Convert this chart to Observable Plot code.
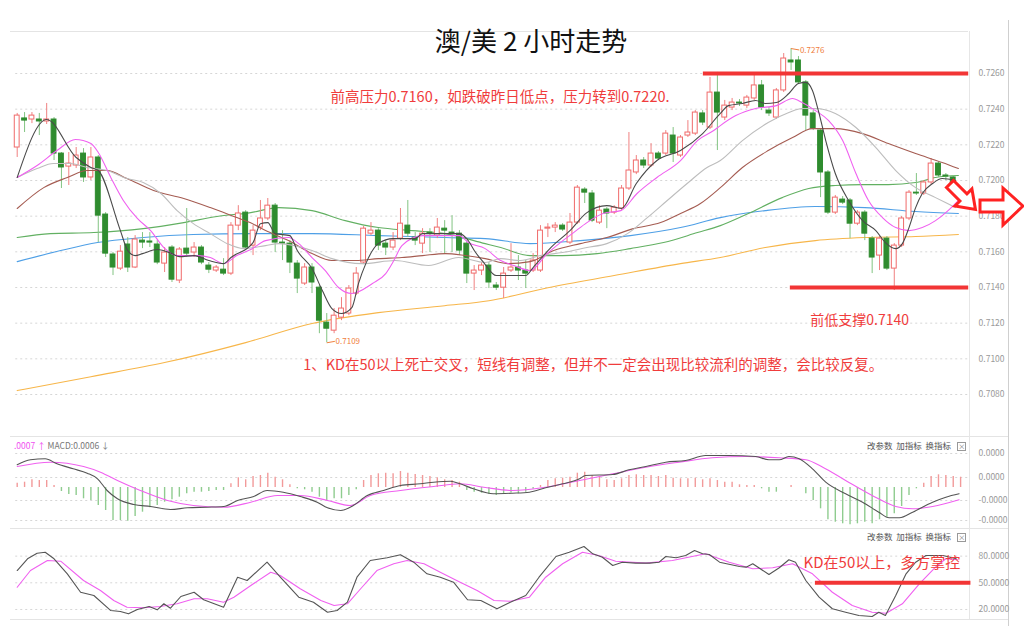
<!DOCTYPE html>
<html><head><meta charset="utf-8">
<script src="https://cdn.jsdelivr.net/npm/d3@7"></script>
<script src="https://cdn.jsdelivr.net/npm/@observablehq/plot@0.6"></script>
<style>
body{margin:0;background:#fff;}
#wrap{position:relative;width:1024px;height:626px;overflow:hidden;background:#fff;font-family:"Noto Sans CJK SC","Noto Sans",sans-serif;}
#wrap svg.plot{position:absolute;left:0;}
.t{position:absolute;white-space:nowrap;}
.hl{position:absolute;height:1px;background:#e4e4e4;}
.vl{position:absolute;width:1px;}
.hdr{position:absolute;font-size:8.5px;color:#555;white-space:nowrap;}
.box{display:inline-block;width:7px;height:7px;border:1px solid #999;font-size:7px;line-height:7px;text-align:center;color:#777;vertical-align:middle;margin-left:6px;}
</style></head><body>
<div id="wrap">
  <div class="hl" style="top:31px;left:10px;width:958px"></div>
  <div class="hl" style="top:436px;left:10px;width:998px"></div>
  <div class="hl" style="top:528px;left:10px;width:998px"></div>
  <div class="hl" style="top:619px;left:10px;width:998px"></div>
  <div class="vl" style="left:969px;top:31px;height:588px;background:#e6e6e6"></div>
  <div class="vl" style="left:1008px;top:20px;height:606px;background:#cfcfcf"></div>
  <div class="t" style="left:0;width:1062px;text-align:center;top:24px;font-size:26px;line-height:32px;color:#111">澳/美 2 小时走势</div>
  <div class="hdr" style="left:14px;top:439px"><span style="color:#f050f0">.0007 ↑</span> <span style="color:#777">MACD:0.0006 ↓</span></div>
  <div class="hdr" style="left:867px;top:439px">改参数&nbsp;&nbsp;加指标&nbsp;&nbsp;换指标<span class="box">×</span></div>
  <div class="hdr" style="left:867px;top:530px">改参数&nbsp;&nbsp;加指标&nbsp;&nbsp;换指标<span class="box">×</span></div>
</div>
<script>
// ---------- candles (2h AUD/USD) ----------
const open = [
.72185,.72348,.72342,.72342,.72331,.72342,.72151,.72078,.72084,.72151,
.72017,.72129,.71809,.71585,.71506,.71641,.71512,.71663,.71658,.71641,
.71534,.71624,.71439,.71618,.71596,.71624,.71523,.71495,.71500,.71478,
.71747,.71820,.71635,.71736,.71787,.71859,.71652,.71646,.71534,.71422,
.71512,.71399,.71203,.71158,.71231,.71254,.71366,.71540,.71702,.71719,
.71646,.71624,.71674,.71747,.71680,.71646,.71708,.71691,.71730,.71708,
.71702,.71646,.71478,.71495,.71523,.71411,.71399,.71495,.71512,.71495,
.71495,.71495,.71730,.71736,.71747,.71652,.71764,.71949,.71927,.71764,
.71837,.71820,.71843,.71955,.72045,.72112,.72084,.72151,.72151,.72252,
.72140,.72252,.72263,.72376,.72297,.72493,.72353,.72409,.72437,.72420,
.72460,.72533,.72392,.72353,.72505,.72673,.72673,.72550,.72376,.72280,
.72045,.71820,.71893,.71888,.71758,.71820,.71674,.71579,.71674,.71506,
.71635,.71787,.71932,.71927,.71989,.72095,.72028,.72017,.71910];
const high = [
.72376,.72381,.72381,.72376,.72432,.72353,.72157,.72157,.72185,.72179,
.72185,.72140,.71820,.71596,.71635,.71680,.71691,.71708,.71708,.71663,
.71624,.71635,.71624,.71843,.71652,.71635,.71540,.71523,.71562,.71764,
.71859,.71831,.71747,.71888,.71899,.71871,.71719,.71663,.71551,.71534,
.71534,.71411,.71254,.71282,.71343,.71411,.71512,.71742,.71764,.71730,
.71663,.71708,.71843,.71888,.71708,.71730,.71730,.71787,.71775,.71803,
.71719,.71663,.71523,.71540,.71540,.71428,.71512,.71646,.71579,.71551,
.71590,.71747,.71758,.71764,.71758,.71815,.71972,.71960,.71944,.71859,
.71848,.71859,.71972,.72269,.72140,.72129,.72207,.72162,.72280,.72297,
.72252,.72336,.72392,.72392,.72578,.72606,.72449,.72460,.72454,.72477,
.72589,.72561,.72409,.72516,.72712,.72740,.72695,.72561,.72392,.72291,
.72056,.71916,.71910,.71899,.71831,.71831,.71686,.71686,.71686,.71646,
.71798,.71944,.72039,.72000,.72123,.72106,.72039,.72028,.71960];
const low = [
.72129,.72269,.72319,.72252,.72314,.72112,.71955,.71972,.72067,.71989,
.72000,.71652,.71568,.71467,.71495,.71484,.71506,.71618,.71624,.71528,
.71484,.71428,.71422,.71568,.71568,.71528,.71478,.71484,.71467,.71467,
.71719,.71607,.71579,.71719,.71775,.71596,.71551,.71478,.71366,.71411,
.71366,.71141,.71090,.71141,.71214,.71242,.71355,.71528,.71691,.71607,
.71579,.71607,.71663,.71680,.71635,.71590,.71596,.71674,.71590,.71596,
.71579,.71422,.71383,.71467,.71394,.71383,.71338,.71484,.71439,.71394,
.71484,.71484,.71680,.71708,.71714,.71641,.71753,.71871,.71764,.71753,
.71730,.71809,.71831,.71944,.72033,.72067,.72073,.72112,.72140,.72101,
.72129,.72241,.72252,.72308,.72286,.72168,.72336,.72392,.72415,.72404,
.72449,.72392,.72359,.72342,.72493,.72617,.72538,.72280,.72280,.71904,
.71809,.71809,.71865,.71674,.71747,.71663,.71478,.71495,.71495,.71383,
.71624,.71775,.71916,.71916,.71977,.72017,.72000,.71944,.71893];
const close = [
.72364,.72336,.72364,.72331,.72342,.72151,.72073,.72095,.72140,.72017,
.72129,.71803,.71590,.71512,.71601,.71512,.71669,.71652,.71652,.71540,
.71596,.71444,.71613,.71590,.71624,.71540,.71500,.71512,.71478,.71747,
.71815,.71624,.71719,.71787,.71859,.71652,.71646,.71540,.71450,.71512,
.71428,.71214,.71169,.71242,.71282,.71394,.71478,.71730,.71719,.71635,
.71624,.71663,.71758,.71702,.71663,.71702,.71702,.71736,.71719,.71702,
.71607,.71478,.71495,.71523,.71428,.71399,.71478,.71512,.71495,.71478,
.71551,.71719,.71736,.71747,.71725,.71764,.71960,.71932,.71775,.71831,
.71815,.71848,.71955,.72056,.72112,.72084,.72151,.72123,.72263,.72151,
.72241,.72269,.72381,.72325,.72493,.72381,.72420,.72437,.72432,.72465,
.72533,.72409,.72376,.72505,.72684,.72662,.72550,.72364,.72291,.72045,
.71820,.71904,.71876,.71758,.71820,.71702,.71568,.71674,.71506,.71635,
.71787,.71932,.71927,.71989,.72095,.72028,.72022,.71955,.71949];

// ---------- moving averages: [bar index, price] ----------
const ma5 = [[0,.72017],[4,.72342],[8,.72129],[10,.72073],[11,.72056],[14,.71719],[15,.71607],[16,.71579],[17,.71590],[19,.71613],[21,.71590],[22,.71573],[24,.71579],[26,.71551],[28,.71534],[29,.71568],[32,.71652],[33,.71758],[34,.71764],[35,.71702],[37,.71691],[38,.71607],[40,.71506],[41.4,.71383],[42.7,.71282],[44,.71254],[45.4,.71287],[46.3,.71422],[47.3,.71534],[49,.71646],[51,.71674],[54,.71674],[55,.71702],[58,.71702],[60,.71702],[61,.71674],[62.2,.71596],[63.3,.71540],[65,.71467],[69,.71467],[70,.71512],[72.4,.71624],[75,.71719],[77.3,.71820],[80,.71859],[82,.71843],[84,.71983],[86.8,.72112],[90,.72168],[93,.72263],[95.4,.72376],[96.5,.72420],[98.4,.72432],[100.2,.72449],[101.5,.72432],[103,.72437],[104.7,.72488],[106,.72544],[107,.72550],[107.9,.72505],[108.7,.72392],[109.7,.72224],[111,.72039],[112.8,.71888],[114.7,.71775],[116.5,.71719],[117.8,.71652],[119.2,.71618],[120.1,.71646],[121,.71736],[121.9,.71848],[122.8,.71927],[124.2,.71983],[125.5,.72011],[127.3,.72000]];
const ma10 = [[0,.72017],[2.7,.72084],[5.4,.72168],[7.9,.72230],[10,.72207],[11,.72157],[12.7,.72017],[14.4,.71888],[16.3,.71787],[18.1,.71719],[19.9,.71624],[21.7,.71579],[24.4,.71579],[26.2,.71568],[28,.71534],[29.8,.71579],[31.7,.71613],[33.7,.71663],[36.8,.71680],[38.2,.71646],[40,.71568],[41.8,.71495],[43.6,.71400],[45.4,.71366],[48.2,.71422],[50,.71478],[51.1,.71551],[52.2,.71635],[55,.71691],[58.1,.71691],[60,.71691],[61.2,.71652],[63.5,.71618],[65.6,.71551],[67.4,.71523],[69.6,.71495],[71.9,.71590],[73.7,.71652],[75.5,.71708],[77.3,.71764],[79.5,.71815],[81.9,.71831],[84.1,.71927],[86.8,.72017],[90,.72112],[92.3,.72224],[94.5,.72280],[95.4,.72308],[97.5,.72364],[100.2,.72404],[103,.72420],[105.2,.72460],[106.5,.72437],[108.3,.72392],[110.1,.72336],[112,.72224],[113.8,.72039],[115.5,.71888],[117.4,.71792],[119.2,.71736],[121,.71719],[122.8,.71736],[124.6,.71775],[126.3,.71831],[127.8,.71893]];
const ma20 = [[0,.72017],[2.7,.72067],[4.9,.72095],[7.2,.72095],[9.5,.72073],[12.2,.72056],[14.9,.72011],[17.1,.71989],[19.5,.71927],[21.7,.71831],[23.9,.71758],[26.2,.71702],[28.5,.71646],[30.7,.71618],[33.7,.71635],[35.5,.71646],[40,.71607],[42.7,.71562],[46.8,.71534],[51.3,.71551],[55.8,.71523],[59.9,.71568],[63.5,.71540],[65.6,.71562],[68.3,.71551],[71,.71579],[74,.71596],[77.3,.71624],[80,.71646],[82.8,.71702],[85.5,.71792],[88.2,.71888],[90.9,.71983],[93.6,.72073],[95.4,.72112],[98.4,.72224],[101.9,.72325],[104.7,.72381],[106.5,.72404],[108.3,.72404],[111,.72376],[113.8,.72297],[116.5,.72185],[119.2,.72056],[121.9,.71960],[124.6,.71904],[127.3,.71848]];
const ma30 = [[0,.71843],[3.6,.71960],[6.8,.72017],[9.5,.72056],[12.2,.72056],[14.9,.72011],[18.5,.71944],[22.6,.71899],[26.2,.71848],[29.8,.71792],[31.6,.71764],[33.7,.71719],[36.8,.71663],[40,.71590],[42.7,.71551],[45.9,.71551],[49,.71562],[52.2,.71568],[55,.71579],[58.1,.71590],[60.8,.71579],[63.5,.71562],[66.5,.71534],[69.6,.71545],[72.8,.71607],[76.4,.71646],[80,.71680],[83.6,.71730],[87.3,.71764],[90,.71815],[92.7,.71871],[95.4,.71960],[98.4,.72073],[101.9,.72168],[105.2,.72241],[107.9,.72291],[111,.72291],[114.7,.72263],[118.2,.72207],[121.9,.72151],[125.5,.72101],[127.7,.72067]];
const ma60 = [[0,.71680],[4.5,.71702],[10.4,.71708],[17.1,.71730],[22.6,.71764],[27.1,.71798],[31.7,.71820],[35.5,.71848],[40,.71831],[44.5,.71775],[49,.71736],[53.6,.71719],[58.1,.71702],[63.5,.71646],[65.6,.71624],[69.6,.71579],[74,.71579],[78.7,.71590],[83.2,.71618],[87.7,.71652],[92.3,.71708],[95.4,.71747],[99.2,.71815],[103.8,.71904],[107.4,.71955],[111,.71972],[114.7,.71977],[118.2,.71977],[121.9,.71989],[124.6,.72017],[127.7,.72028]];
const ma120 = [[0,.71545],[5.9,.71607],[10.9,.71652],[17.1,.71680],[23.9,.71697],[31.7,.71702],[40,.71702],[49,.71691],[58.1,.71680],[63.5,.71674],[69.6,.71646],[76.4,.71663],[83.2,.71691],[90,.71736],[95.4,.71792],[101.5,.71831],[108.3,.71854],[115,.71848],[121.9,.71826],[127.7,.71815]];
const ma250 = [[0,.70822],[10,.70900],[20,.70979],[31,.71091],[40,.71198],[49,.71259],[58,.71298],[64,.71326],[72,.71399],[81,.71467],[90,.71534],[95.4,.71568],[101.5,.71624],[108.3,.71663],[115,.71680],[121.9,.71686],[127.7,.71697]];

// ---------- MACD (values x 1e-5) ----------
const macdHist = [
0.43,0.53,0.77,0.70,0.70,0.20,-0.40,-0.70,-0.80,-1.13,
-1.30,-1.80,-2.30,-3.30,-3.30,-3.37,-2.90,-2.47,-2.03,-1.80,
-1.47,-1.23,-0.97,-0.63,-0.47,-0.47,-0.40,-0.30,-0.30,0.37,
0.97,0.77,1.10,1.20,1.43,1.03,0.77,0.27,-0.13,-0.23,
-0.47,-0.97,-1.30,-1.13,-1.13,-0.80,-0.23,0.70,1.20,1.37,
1.43,1.37,1.60,1.43,1.30,1.20,1.10,0.97,0.77,0.70,
0.53,-0.30,-0.47,-0.57,-0.70,-0.80,-0.63,-0.55,-0.63,-0.47,
-0.17,0.20,0.70,0.87,0.93,1.03,1.43,1.53,1.20,1.03,
0.77,0.70,0.87,1.20,1.27,1.20,1.20,1.10,1.20,0.93,
0.87,0.87,0.93,0.77,0.87,0.70,0.53,0.53,0.27,0.20,
0.20,-0.13,-0.47,-0.47,0,0.20,0,-0.63,-1.30,-2.13,
-3.23,-3.47,-3.63,-3.73,-3.63,-3.47,-3.63,-3.23,-2.97,-2.63,
-1.90,-0.80,-0.13,0.43,1.10,1.27,1.20,1.10,1.03];
const macdDif = [[0,2.27],[1.8,2.77],[3.8,2.87],[5.4,2.37],[7.6,1.87],[9.5,1.43],[10.9,0.87],[12.2,-0.30],[13.6,-1.13],[15.8,-1.70],[18.1,-1.90],[20.8,-2.20],[23.1,-2.03],[25.8,-1.97],[28,-1.90],[29.9,-1.30],[32.1,-0.90],[33.9,-0.30],[36.1,-0.47],[38.4,-0.90],[40.7,-1.47],[42.1,-2.03],[43.9,-2.30],[45.6,-1.80],[47.5,-0.80],[49.7,-0.30],[52,0.20],[54.7,0.37],[56.5,0.53],[58.8,0.63],[60.1,0.37],[61.9,-0.13],[64.6,-0.63],[67.2,-0.57],[69.5,-0.47],[71.7,-0.03],[74,0.37],[76.3,0.87],[77.1,1.20],[80.8,1.30],[83,1.77],[85.3,2.10],[88,2.53],[90.7,2.70],[93.4,3.20],[96.6,3.20],[100.2,3.10],[102,2.77],[103.4,2.77],[104.7,3.10],[106.1,2.87],[107.9,1.87],[109.7,0.53],[112.4,-0.63],[114.7,-1.47],[116.9,-2.47],[118.3,-3.03],[119.7,-3.03],[121.5,-2.47],[124.2,-1.47],[126,-0.97],[127.8,-0.63]];
const macdDea = [[0,2.10],[4.5,2.53],[9,2.10],[11.3,1.53],[13.6,0.70],[16.7,-0.30],[20.4,-1.30],[23.9,-1.80],[28,-1.97],[31.7,-1.47],[35.3,-0.80],[38.4,-0.80],[42.1,-1.30],[45.2,-1.80],[47.9,-0.80],[52,-0.30],[56.5,0.10],[60.1,0.37],[63.3,0.03],[67.2,-0.30],[71.7,0.03],[76.3,0.70],[80.8,1.37],[85.3,2.03],[89.8,2.53],[94.3,2.97],[98.9,3.10],[103.4,2.97],[107,2.77],[109.3,2.03],[112.4,0.70],[116,-0.80],[119.2,-1.90],[121.5,-2.13],[124.2,-1.90],[127.8,-1.23]];
const macdTicks = [3.4, 1.0, -1.3, -3.3];

// ---------- KD ----------
const kdK = [[0,63.8],[1.4,77.0],[2.7,83.3],[3.8,84.4],[5,77.0],[6.8,60.1],[8.6,39.4],[10.4,35.7],[12.7,18.8],[14,17.7],[15.1,15.1],[16.3,20.0],[17.9,23.3],[19,19.6],[19.9,26.4],[20.8,21.4],[22.2,34.6],[24,39.4],[25.3,30.9],[28,22.5],[29.9,56.3],[31.2,52.6],[33.9,73.2],[35.7,56.3],[38.2,33.8],[40.2,28.2],[42.1,16.9],[43.4,18.8],[44.8,28.2],[46.1,56.3],[47.9,75.1],[50.2,78.1],[52,81.5],[53.8,73.2],[55.6,60.1],[57.4,56.3],[59.2,50.7],[61.1,30.9],[62.9,30.1],[65.1,20.8],[66.9,28.2],[69,35.7],[70.8,56.3],[73.1,79.6],[74.9,84.4],[76.9,90.8],[78.1,82.6],[79.4,78.8],[80.8,69.5],[82.1,73.2],[83.9,72.1],[85.8,72.1],[87.1,73.2],[88,79.6],[89.4,78.1],[90.7,80.7],[91.9,86.3],[93,82.6],[93.9,81.8],[95.3,73.2],[98,68.3],[98.9,67.6],[99.8,71.4],[102,59.3],[103.4,66.9],[104.7,75.9],[105.6,73.2],[107,52.6],[108.8,33.8],[110.6,20.8],[112.4,16.9],[114.2,13.2],[116,12.1],[116.9,16.9],[117.8,13.2],[119.2,35.7],[120.6,60.1],[121.9,73.2],[123.3,80.7],[125.6,80.7],[127.4,77.0]];
const kdD = [[0,45.0],[1.8,63.8],[4.1,75.1],[5.9,74.3],[9,52.6],[11.3,41.3],[13.1,30.1],[14.9,22.5],[17.2,21.9],[19.4,23.3],[21.7,26.4],[24,32.0],[25.8,32.0],[28,28.2],[29.4,33.8],[31.7,47.0],[34.4,61.9],[35.7,58.2],[38.4,43.3],[41.2,30.1],[43,24.5],[44.8,26.4],[46.6,43.3],[48.8,63.8],[51.1,71.4],[52.9,75.1],[55.2,71.4],[57.4,61.9],[60.1,50.7],[62.4,41.3],[64.7,30.1],[66.9,29.3],[69.5,33.8],[71.7,56.3],[74,71.4],[76.7,84.4],[78.9,80.7],[81.2,74.3],[85.3,72.1],[88.9,75.1],[93.4,82.6],[96.6,73.2],[99.8,65.8],[102.5,66.9],[105.2,71.4],[107.9,60.1],[110.6,39.4],[113.3,24.5],[116,16.9],[117.9,15.8],[120.1,26.4],[122.4,48.9],[124.6,67.6],[126,77.0],[127.6,75.9]];
const kdTicks = [80, 50, 20];

const priceTicks = [0.7260,0.7240,0.7220,0.7200,0.7180,0.7160,0.7140,0.7120,0.7100,0.7080];
const levelPrices = [0.7260, 0.7140];
const levelFrom = [93.1, 104.9];
const kdLevel = 50;
const peakLabel = "0.7276", troughLabel = "0.7109";

// ---------- build ----------
const candles = open.map((o, i) => ({i, open: o, high: high[i], low: low[i], close: close[i]}));
const ups = candles.filter(d => d.close >= d.open);
const downs = candles.filter(d => d.close < d.open);
const RED = "#f03c3c";
const FONT = "'Noto Sans CJK SC','Noto Sans',sans-serif";
const X = {domain: [0, 128], range: [16.7, 960.1], axis: null};
const base = {width: 1024, marginLeft: 16.7, marginRight: 63.9,
  style: {background: "transparent", fontFamily: FONT, fontSize: "9px", overflow: "visible"}};
const axisStyle = {anchor: "right", tickSize: 0, tickPadding: 18, fontSize: 8.5, color: "#9a9a9a", label: null};
const grid = (t) => Plot.ruleY(t, {x1: -0.2, x2: 129.3, stroke: "#d6d6d6", strokeDasharray: "2,3"});
const mline = (d, stroke, w = 1.1) => Plot.line(d, {x: p => p[0], y: p => p[1], stroke, strokeWidth: w, curve: "monotone-x"});

const iPeak = high.indexOf(d3.max(high));
const iTrough = low.indexOf(d3.min(low));

const main = Plot.plot({...base, height: 435, marginTop: 73, marginBottom: 41,
  x: X, y: {domain: [0.7080, 0.7260], range: [394, 73], label: null},
  marks: [
    grid(priceTicks),
    Plot.axisY({...axisStyle, ticks: priceTicks, tickFormat: d => d.toFixed(4)}),
    mline(ma250, "#f7b64a"),
    mline(ma120, "#4e9fe6"),
    mline(ma60, "#62b062"),
    Plot.ruleX(ups, {x: "i", y1: "low", y2: "high", stroke: "#f08080"}),
    Plot.ruleX(downs, {x: "i", y1: "low", y2: "high", stroke: "#82c482"}),
    Plot.rect(ups, {x1: d => d.i - 0.33, x2: d => d.i + 0.33, y1: "open", y2: "close", fill: "#fff", stroke: "#f06a6a"}),
    Plot.rect(downs, {x1: d => d.i - 0.33, x2: d => d.i + 0.33, y1: "open", y2: "close", fill: "#2f8c2f", stroke: "#2f8c2f"}),
    mline(ma30, "#a55c52"),
    mline(ma20, "#bdbdbd"),
    mline(ma10, "#f060f0"),
    mline(ma5, "#4a4a4a"),
    Plot.ruleY(levelPrices.map((p, k) => ({p, a: levelFrom[k]})), {y: "p", x1: "a", x2: 129.1, stroke: "#f23535", strokeWidth: 4}),
    Plot.link([0], {x1: iPeak, y1: high[iPeak], x2: iPeak + 1.1, y2: high[iPeak] - 0.00008, stroke: "#f08040"}),
    Plot.text([peakLabel], {x: iPeak + 1.2, y: high[iPeak] - 0.00008, text: d => d, textAnchor: "start", fill: "#f08040", fontSize: 8}),
    Plot.link([0], {x1: iTrough, y1: low[iTrough], x2: iTrough + 1.1, y2: low[iTrough] + 0.00008, stroke: "#f08040"}),
    Plot.text([troughLabel], {x: iTrough + 1.2, y: low[iTrough] + 0.00008, text: d => d, textAnchor: "start", fill: "#f08040", fontSize: 8}),
    Plot.text(["前高压力0.7160，如跌破昨日低点，压力转到0.7220."], {x: 42.5, y: 0.72465, text: d => d, textAnchor: "start", fill: RED, fontSize: 14.5}),
    Plot.text(["前低支撑0.7140"], {x: 107.6, y: 0.71214, text: d => d, textAnchor: "start", fill: RED, fontSize: 14}),
    Plot.text(["1、KD在50以上死亡交叉，短线有调整，但并不一定会出现比较流利的调整，会比较反复。"], {x: 38.8, y: 0.70962, text: d => d, textAnchor: "start", fill: RED, fontSize: 14.5})
  ]});

const hist = macdHist.map((v, i) => ({i, v}));
const macd = Plot.plot({...base, height: 100, marginTop: 17, marginBottom: 3,
  x: X, y: {domain: [-4, 4], range: [97, 17], label: null},
  marks: [
    grid(macdTicks),
    Plot.axisY({...axisStyle, ticks: macdTicks, tickFormat: v => (v < 0 ? "-" : "") + (Math.abs(v) * 1e-5).toFixed(4)}),
    Plot.ruleX(hist.filter(d => d.v > 0), {x: "i", y1: 0, y2: "v", stroke: "#f29a9a", strokeWidth: 1.4}),
    Plot.ruleX(hist.filter(d => d.v < 0), {x: "i", y1: 0, y2: "v", stroke: "#8fcc8f", strokeWidth: 1.4}),
    mline(macdDea, "#f060f0"),
    mline(macdDif, "#555")
  ]});

const kd = Plot.plot({...base, height: 96, marginTop: 25.63, marginBottom: 17.03,
  x: X, y: {domain: [20, 80], range: [78.97, 25.63], label: null},
  marks: [
    grid(kdTicks),
    Plot.axisY({...axisStyle, ticks: kdTicks, tickFormat: v => v.toFixed(4)}),
    Plot.line(kdD, {x: p => p[0], y: p => p[1], stroke: "#f060f0", strokeWidth: 1.1}),
    Plot.line(kdK, {x: p => p[0], y: p => p[1], stroke: "#555", strokeWidth: 1.1}),
    Plot.ruleY([kdLevel], {x1: 108.3, x2: 129.4, stroke: "#f23535", strokeWidth: 4}),
    Plot.text(["KD在50以上，多方掌控"], {x: 106.7, y: 71.7, text: d => d, textAnchor: "start", fill: RED, fontSize: 15})
  ]});

const wrap = document.getElementById("wrap");
[[main, 0], [macd, 430], [kd, 530]].forEach(([svg, top]) => {
  svg.classList.add("plot");
  svg.style.position = "absolute";
  svg.style.top = top + "px";
  svg.style.left = "0px";
  wrap.appendChild(svg);
});

// decorative outline arrows
const ns = "http://www.w3.org/2000/svg";
const ov = document.createElementNS(ns, "svg");
ov.setAttribute("width", 1024); ov.setAttribute("height", 626);
ov.style.position = "absolute"; ov.style.left = "0"; ov.style.top = "0";
ov.innerHTML =
  '<polygon points="0,-5 19,-5 19,-12 36,0 19,12 19,5 0,5" transform="translate(950,184) rotate(45)" fill="#fff" stroke="#f22" stroke-width="3" stroke-linejoin="miter"/>' +
  '<polygon points="980,200 1003,200 1003,188 1023,206 1003,225 1003,212 980,212" fill="#fff" stroke="#f22" stroke-width="3" stroke-linejoin="miter"/>';
wrap.appendChild(ov);
</script>
</body></html>
